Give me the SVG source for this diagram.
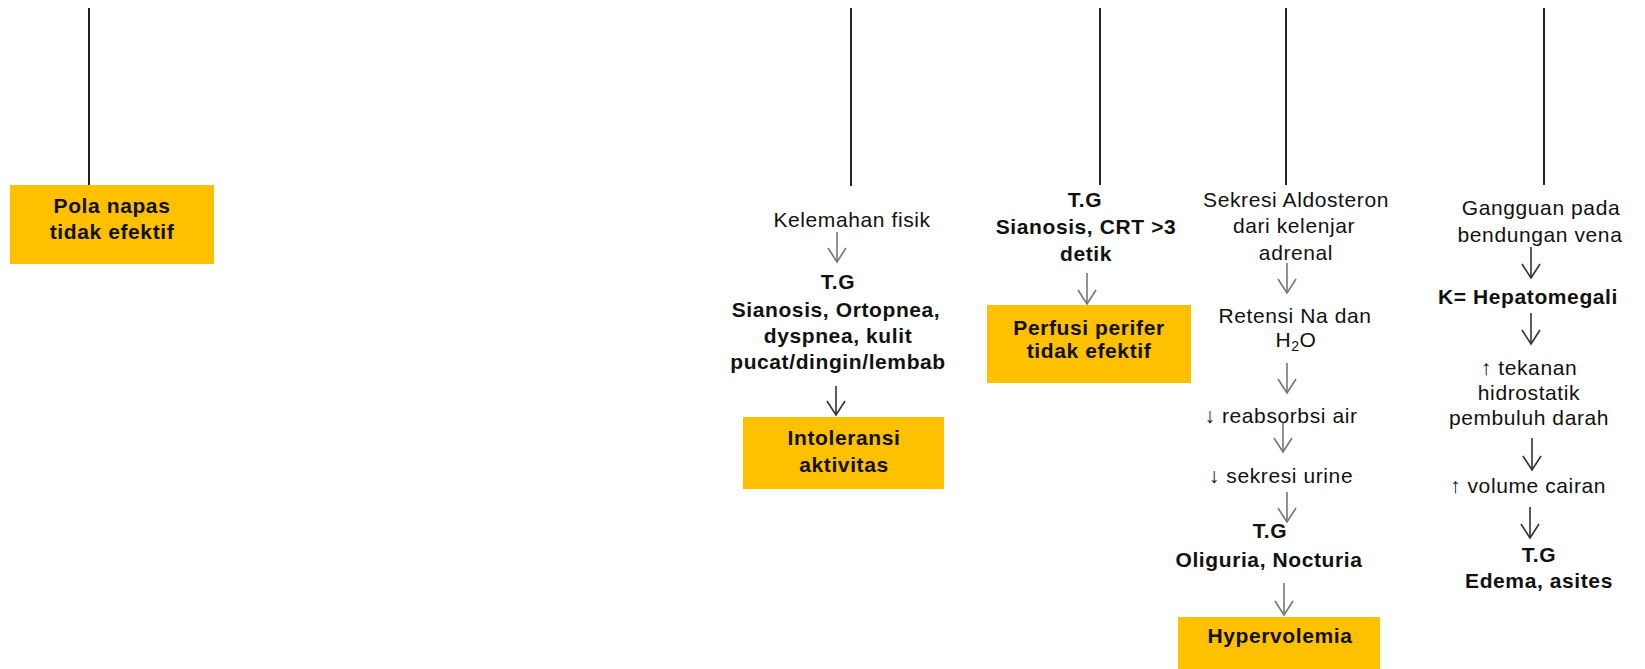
<svg xmlns="http://www.w3.org/2000/svg" width="1645" height="669" viewBox="0 0 1645 669">
<style>
text{font-family:"Liberation Sans",Arial,Helvetica,sans-serif;font-size:21px;letter-spacing:0.6px;fill:#111;text-anchor:middle}
.b{font-weight:bold}
.box{fill:#FFC000}
.ln{stroke:#222;stroke-width:2;fill:none}
.ar{stroke:#333;stroke-width:1.6;fill:none;marker-end:url(#ah)}
.ar.g{stroke:#777}
</style>
<defs>
<marker id="ah" markerUnits="userSpaceOnUse" viewBox="-16 -11 18 22" markerWidth="18" markerHeight="22" refX="0" refY="0" orient="auto">
<path d="M-14,-9 L0,0 L-14,9" fill="none" stroke="context-stroke" stroke-width="1.6"/>
</marker>
</defs>
<g id="connectors">
<line class="ln" x1="89" y1="8" x2="89" y2="186"/>
<line class="ln" x1="851" y1="8" x2="851" y2="186"/>
<line class="ln" x1="1100" y1="8" x2="1100" y2="185"/>
<line class="ln" x1="1286" y1="8" x2="1286" y2="185"/>
<line class="ln" x1="1544" y1="8" x2="1544" y2="185"/>
<line class="ar g" x1="837" y1="232" x2="837" y2="262"/>
<line class="ar" x1="836" y1="386" x2="836" y2="415"/>
<line class="ar g" x1="1087" y1="273" x2="1087" y2="304"/>
<line class="ar g" x1="1287" y1="263" x2="1287" y2="293"/>
<line class="ar g" x1="1287" y1="363" x2="1287" y2="393"/>
<line class="ar g" x1="1283" y1="423" x2="1283" y2="452"/>
<line class="ar g" x1="1287" y1="492" x2="1287" y2="522"/>
<line class="ar g" x1="1284" y1="583" x2="1284" y2="615"/>
<line class="ar" x1="1531" y1="247" x2="1531" y2="278"/>
<line class="ar" x1="1531" y1="313" x2="1531" y2="344"/>
<line class="ar" x1="1532" y1="438" x2="1532" y2="470"/>
<line class="ar" x1="1530" y1="507" x2="1530" y2="538"/>
</g>
<g id="pola-napas">
<rect class="box" x="10" y="185" width="204" height="79"/>
<text class="b" x="112" y="213">Pola napas</text>
<text class="b" x="112" y="239">tidak efektif</text>
</g>
<g id="kelemahan">
<text x="852" y="227">Kelemahan fisik</text>
</g>
<g id="tg-intoleransi">
<text class="b" x="838" y="289">T.G</text>
<text class="b" x="836" y="317">Sianosis, Ortopnea,</text>
<text class="b" x="838" y="343">dyspnea, kulit</text>
<text class="b" x="838" y="369">pucat/dingin/lembab</text>
</g>
<g id="intoleransi">
<rect class="box" x="743" y="417" width="201" height="72"/>
<text class="b" x="844" y="445">Intoleransi</text>
<text class="b" x="844" y="472">aktivitas</text>
</g>
<g id="tg-perfusi">
<text class="b" x="1085" y="207">T.G</text>
<text class="b" x="1086" y="234">Sianosis, CRT &gt;3</text>
<text class="b" x="1086" y="261">detik</text>
</g>
<g id="perfusi">
<rect class="box" x="987" y="305" width="204" height="78"/>
<text class="b" x="1089" y="335">Perfusi perifer</text>
<text class="b" x="1089" y="358">tidak efektif</text>
</g>
<g id="aldosteron">
<text x="1296" y="207">Sekresi Aldosteron</text>
<text x="1294" y="233">dari kelenjar</text>
<text x="1296" y="260">adrenal</text>
</g>
<g id="retensi">
<text x="1295" y="323">Retensi Na dan</text>
<text x="1296" y="347">H<tspan font-size="14" dy="4">2</tspan><tspan dy="-4">O</tspan></text>
</g>
<g id="reabsorbsi">
<text x="1281" y="423">↓ reabsorbsi air</text>
</g>
<g id="sekresi-urine">
<text x="1281" y="483">↓ sekresi urine</text>
</g>
<g id="tg-hypervolemia">
<text class="b" x="1270" y="538">T.G</text>
<text class="b" x="1269" y="567">Oliguria, Nocturia</text>
</g>
<g id="hypervolemia">
<rect class="box" x="1178" y="617" width="202" height="60"/>
<text class="b" x="1280" y="643">Hypervolemia</text>
</g>
<g id="gangguan">
<text x="1541" y="215">Gangguan pada</text>
<text x="1540" y="242">bendungan vena</text>
</g>
<g id="hepatomegali">
<text class="b" x="1528" y="304">K= Hepatomegali</text>
</g>
<g id="tekanan">
<text x="1529" y="375">↑ tekanan</text>
<text x="1529" y="400">hidrostatik</text>
<text x="1529" y="425">pembuluh darah</text>
</g>
<g id="volume">
<text x="1528" y="493">↑ volume cairan</text>
</g>
<g id="tg-edema">
<text class="b" x="1539" y="562">T.G</text>
<text class="b" x="1539" y="588">Edema, asites</text>
</g>
</svg>
